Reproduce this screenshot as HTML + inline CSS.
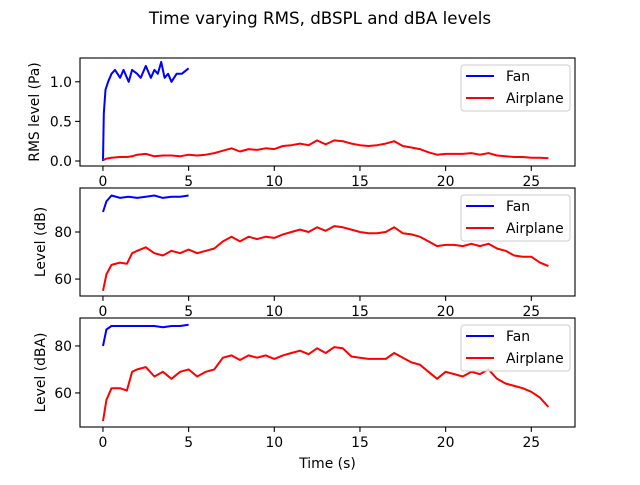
<!DOCTYPE html>
<html><head><meta charset="utf-8"><style>
body{margin:0;background:#fff;}
svg{font-family:"DejaVu Sans","Liberation Sans",sans-serif;}
</style></head><body>
<svg id="fig" width="640" height="480" xmlns="http://www.w3.org/2000/svg">
<rect width="640" height="480" fill="#fff"/>
<text x="320" y="24" text-anchor="middle" font-size="16.7">Time varying RMS, dBSPL and dBA levels</text>
</svg>
<script>
const fanT = [0,0.05,0.15,0.3,0.5,0.7,1,1.2,1.5,1.7,2,2.2,2.5,2.8,3,3.2,3.4,3.6,3.8,4,4.3,4.6,5];
const fanRms = [0,0.6,0.9,1.0,1.1,1.15,1.05,1.15,1.0,1.15,1.1,1.05,1.2,1.05,1.15,1.1,1.25,1.05,1.1,1.0,1.1,1.1,1.17];
const fanT2 = [0,0.2,0.5,1,1.5,2,2.5,3,3.5,4,4.5,5];
const fanDb = [88.5,93,95.5,94.5,95,94.5,95,95.5,94.5,95,95,95.5];
const fanDba = [80,87,88.5,88.5,88.5,88.5,88.5,88.5,88,88.5,88.5,89];
const airT = [0,0.2,0.5,1,1.4,1.7,2,2.5,3,3.5,4,4.5,5,5.5,6,6.5,7,7.5,8,8.5,9,9.5,10,10.5,11,11.5,12,12.5,13,13.5,14,14.5,15,15.5,16,16.5,17,17.5,18,18.5,19,19.5,20,20.5,21,21.5,22,22.5,23,23.5,24,24.5,25,25.5,26];
const airRms = [0.01,0.03,0.04,0.05,0.05,0.06,0.08,0.09,0.06,0.07,0.07,0.06,0.08,0.07,0.08,0.1,0.13,0.16,0.12,0.15,0.14,0.16,0.15,0.19,0.2,0.22,0.2,0.26,0.21,0.26,0.25,0.22,0.2,0.19,0.2,0.22,0.25,0.19,0.17,0.15,0.11,0.08,0.09,0.09,0.09,0.1,0.08,0.1,0.07,0.06,0.05,0.05,0.04,0.04,0.035];
const airDb = [55,62,66,67,66.5,71,72,73.5,71,70,72,71,72.5,71,72,73,76,78,76,78,77,78,77.5,79,80,81,80,82,80.5,82.5,82,81,80,79.5,79.5,80,82,79.5,79,78,76,74,74.5,74.5,74,75,74,75,73,72,70,69.5,69.5,67,65.5];
const airDba = [48,57,62,62,61,69,70,71,67,69,66,69,70,67,69,70,75,76,74,76,75,76,74.5,76,77,78,76.5,79,77,79.5,79,75.5,75,74.5,74.5,74.5,77,75,73,72,69,66,69,68,67,69,68,70,66,64,63,62,60.5,58,54];
const xTicks = [0,5,10,15,20,25];
const panels = [
 {top:58,bot:166,ymin:-0.063,ymax:1.30,ticks:[0.0,0.5,1.0],fmt:v=>v.toFixed(1),label:'RMS level (Pa)',fan:[fanT,fanRms],air:[airT,airRms],name:'rms'},
 {top:188,bot:296,ymin:52.8,ymax:98.7,ticks:[60,80],fmt:v=>String(v),label:'Level (dB)',fan:[fanT2,fanDb],air:[airT,airDb],name:'db'},
 {top:318,bot:427,ymin:45.5,ymax:91.9,ticks:[60,80],fmt:v=>String(v),label:'Level (dBA)',fan:[fanT2,fanDba],air:[airT,airDba],name:'dba'}
];
const L=80,R=575,xmin=-1.34,xmax=27.55,FS=13.9;
const svg=document.getElementById('fig');
const NS='http://www.w3.org/2000/svg';
function X(t){return L+(t-xmin)/(xmax-xmin)*(R-L);}
function mk(tag,attrs){const e=document.createElementNS(NS,tag);for(const k in attrs)e.setAttribute(k,attrs[k]);svg.appendChild(e);return e;}
panels.forEach((p,i)=>{
 const Y=v=>p.bot-(v-p.ymin)/(p.ymax-p.ymin)*(p.bot-p.top);
 xTicks.forEach(t=>{
  const l=mk('line',{x1:X(t),x2:X(t),y1:p.bot,y2:p.bot+4.9,stroke:'#000','stroke-width':1.1});
  
  
  const tx=mk('text',{x:X(t),y:p.bot+20,'text-anchor':'middle','font-size':FS});
  tx.textContent=t;
  
  
 });
 p.ticks.forEach(v=>{
  const l=mk('line',{x1:L-4.9,x2:L,y1:Y(v),y2:Y(v),stroke:'#000','stroke-width':1.1});
  
  
  const tx=mk('text',{x:L-8,y:Y(v)+5,'text-anchor':'end','font-size':FS});
  tx.textContent=p.fmt(v);
  
  
 });
 const yl=mk('text',{x:0,y:0,'text-anchor':'middle','font-size':FS,transform:`translate(${p.name==='rms'?39:45},${(p.top+p.bot)/2}) rotate(-90)`});
 yl.textContent=p.label;
 
 
 [[p.fan,'#0000ff','fan'],[p.air,'#ff0000','airplane']].forEach(([s,c,n])=>{
  const d=s[0].map((t,j)=>(j?'L':'M')+X(t).toFixed(1)+','+Y(s[1][j]).toFixed(1)).join('');
  const pa=mk('path',{d:d,fill:'none',stroke:c,'stroke-width':2,'stroke-linejoin':'round'});
  
  
 });
 const fr=mk('rect',{x:L,y:p.top,width:R-L,height:p.bot-p.top,fill:'none',stroke:'#000','stroke-width':1.1});
 
 
 const lg=mk('rect',{x:461,y:p.top+7,width:109,height:46,rx:3,fill:'#fff','fill-opacity':0.8,stroke:'#ccc','stroke-width':1});
 
 
 [['Fan','#0000ff',18],['Airplane','#ff0000',40]].forEach(([t,c,dy])=>{
  const ll=mk('line',{x1:466,x2:494,y1:p.top+dy,y2:p.top+dy,stroke:c,'stroke-width':2});
  
  
  const lt=mk('text',{x:506,y:p.top+dy+5,'font-size':FS});
  lt.textContent=t;
  
  
 });
});
const xl=mk('text',{x:(L+R)/2,y:468,'text-anchor':'middle','font-size':FS});
xl.textContent='Time (s)';


</script>
</body></html>
